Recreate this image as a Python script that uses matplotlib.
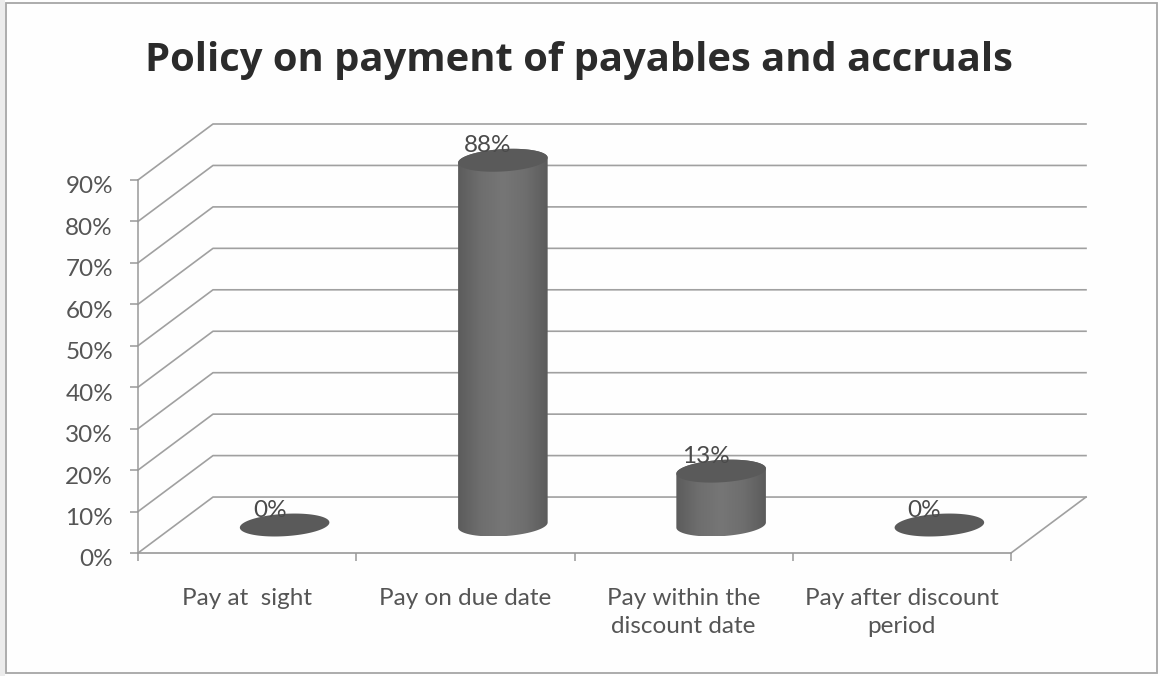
import numpy as np
import matplotlib
matplotlib.use('Agg')
import matplotlib.pyplot as plt
from matplotlib.colors import LinearSegmentedColormap
from matplotlib.patches import Polygon, Rectangle
from matplotlib.transforms import ScaledTranslation

categories = ['Pay at  sight', 'Pay on due date', 'Pay within the\ndiscount date', 'Pay after discount\nperiod']
values = [0, 88, 13, 0]
value_labels = ['0%', '88%', '13%', '0%']
y_ticks = [0, 10, 20, 30, 40, 50, 60, 70, 80, 90]
title = 'Policy on payment of payables and accruals'

W, H = 1160, 676
# how far the floor runs back, in axis units
DEPTH_X = 75 / 218.25
DEPTH_Y = 13.5
R_X = 0.2
R_D = 0.205
SHEAR = 0.65  # flattens the tilt of the cylinder ends
GRID = '#a0a0a0'
TEXT = '#555555'

plt.rcParams['font.family'] = ['Lato', 'DejaVu Sans']

fig = plt.figure(figsize=(W / 100, H / 100), dpi=100, facecolor='#fefefe')
ax = fig.add_axes([138 / W, 1 - 553 / H, (1086 - 138) / W, (553 - 124) / H])
ax.patch.set_alpha(0)


def project(x, y, d):
    return x + d * DEPTH_X, y + d * DEPTH_Y


def disc(cx, y, t):
    # cylinder end centred on the mid depth of the floor
    px, py = project(cx, y, 0.5)
    return (px + R_X * np.cos(t) + SHEAR * DEPTH_X * R_D * np.sin(t),
            py + DEPTH_Y * R_D * np.sin(t))


# scan edge and chart frame
fig.add_artist(Rectangle((0, 0), 5 / W, 1, transform=fig.transFigure, color='#ececec', lw=0))
fig.add_artist(Rectangle((5.5 / W, 3 / H), (1157 - 5.5) / W, (673 - 3) / H, transform=fig.transFigure,
                         fill=False, ec='#a6a6a6', lw=1.3))

# walls and floor
for t in y_ticks:
    x0, y0 = project(0, t, 1)
    x1, y1 = project(4, t, 1)
    ax.plot([0, x0, x1], [t, y0, y1], color=GRID, lw=1.2, zorder=1, clip_on=False)
xa, ya = project(4, 0, 1)
ax.plot([4, xa], [0, ya], color=GRID, lw=1.2, zorder=1, clip_on=False)

cmap = LinearSegmentedColormap.from_list('cyl', ['#5c5c5c', '#6e6e6e', '#767676', '#6e6e6e', '#5c5c5c'])
t0 = np.arctan2(R_D * SHEAR * DEPTH_X, R_X)

for i, v in enumerate(values):
    cx = i + 0.5
    if v > 0:
        bx, by = disc(cx, 0, np.linspace(t0, t0 - np.pi, 80))
        ux, uy = disc(cx, v, np.linspace(t0 + np.pi, t0, 80))
        body = Polygon(np.column_stack([np.r_[bx, ux], np.r_[by, uy]]), closed=True,
                       transform=ax.transData, fc='none', ec='none')
        ax.add_patch(body)
        im = ax.imshow(np.linspace(0, 1, 200)[None, :], cmap=cmap, aspect='auto', zorder=3,
                       extent=(bx.min(), bx.max(), by.min(), uy.max()), interpolation='bilinear')
        im.set_clip_path(body)
    ex, ey = disc(cx, v, np.linspace(0, 2 * np.pi, 160))
    ax.fill(ex, ey, color='#5a5a5a', lw=0, zorder=4)
    lx, ly = project(cx, v, 0.5)
    ax.annotate(value_labels[i], (lx, ly), xytext=(-15 * 0.72, 15 * 0.72), textcoords='offset points',
                ha='center', va='center', fontsize=17.5, color='#4a4a4a', zorder=5)

ax.set_xlim(0, 4 + DEPTH_X)
ax.set_ylim(0, 90 + DEPTH_Y)

for s in ['top', 'right']:
    ax.spines[s].set_visible(False)
ax.spines['left'].set_bounds(0, 90)
ax.spines['bottom'].set_bounds(0, 4)
ax.spines['left'].set_color('#999999')
ax.spines['bottom'].set_color('#999999')
ax.spines['left'].set_linewidth(1.1)
ax.spines['bottom'].set_linewidth(1.2)

ax.set_yticks(y_ticks, [f'{t}%' for t in y_ticks])
ax.tick_params(axis='y', length=6, width=1.1, color='#999999', labelcolor=TEXT, labelsize=17.5, pad=12)
# the percent labels sit a little under their ticks
shift = ScaledTranslation(0, -5 / 100, fig.dpi_scale_trans)
for lab in ax.get_yticklabels():
    lab.set_transform(lab.get_transform() + shift)
ax.set_xticks(range(5), [''] * 5)
ax.tick_params(axis='x', which='major', length=6, width=1.1, color='#999999')
ax.set_xticks([i + 0.5 for i in range(4)], categories, minor=True)
ax.tick_params(axis='x', which='minor', length=0, pad=25, labelsize=17.5, labelcolor=TEXT)
for lab in ax.get_xticklabels(minor=True):
    lab.set_linespacing(1.45)

fig.text(579 / W, 1 - 60 / H, title, ha='center', va='center', fontsize=28.8, fontweight='bold',
         family=['Open Sans', 'DejaVu Sans'], color='#2b2b2b')

fig.savefig('out.png', dpi=100)
